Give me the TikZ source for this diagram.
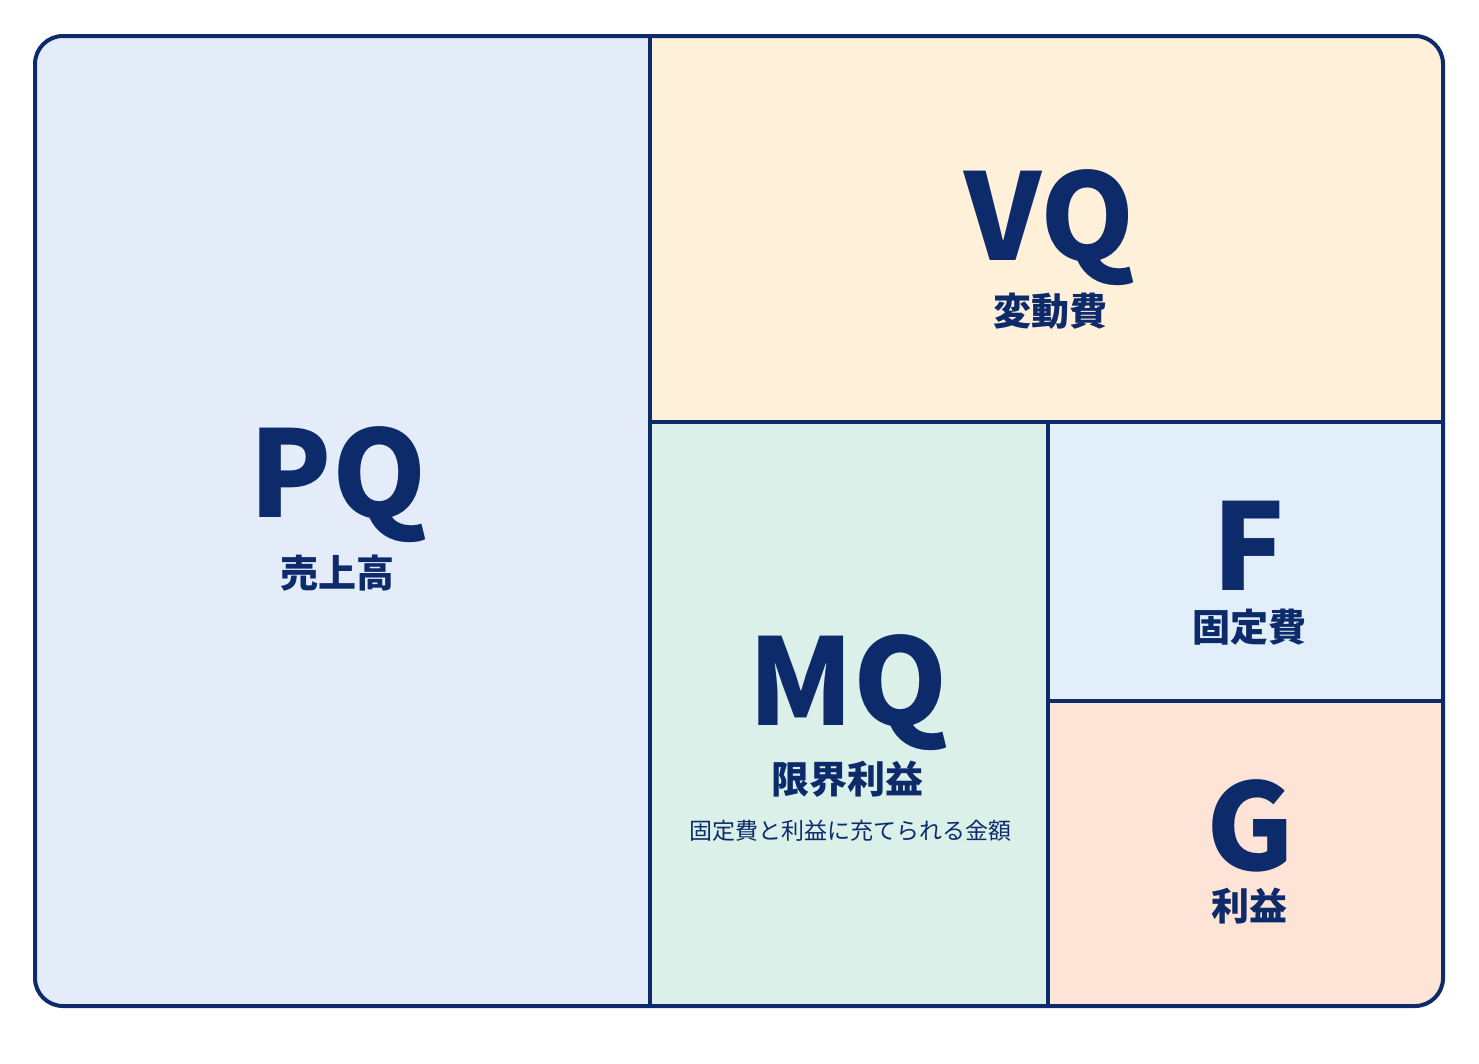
\documentclass[tikz,border=0pt]{standalone}
\usepackage{fontspec}
\setmainfont{Noto Sans CJK JP}
\definecolor{navy}{HTML}{0D2B6B}
\definecolor{pqbg}{HTML}{E4ECFA}
\definecolor{vqbg}{HTML}{FEF0D9}
\definecolor{mqbg}{HTML}{DAF0E8}
\definecolor{fbg}{HTML}{E2EEF9}
\definecolor{gbg}{HTML}{FDE4D6}
\tikzset{
  big/.style={text=navy,font=\fontsize{120}{120}\selectfont\bfseries,inner sep=0pt,anchor=base},
  lab/.style={text=navy,font=\fontsize{38}{38}\selectfont\bfseries,inner sep=0pt},
  small/.style={text=navy,font=\fontsize{23}{23}\selectfont,inner sep=0pt},
  divline/.style={draw=navy,line width=3.2pt},
  frame/.style={draw=navy,line width=4pt,rounded corners=28pt}
}
\begin{document}
\begin{tikzpicture}[x=1pt,y=-1pt]
\useasboundingbox (0,0) rectangle (1479,1063);
\fill[white] (0,0) rectangle (1479,1063);
\begin{scope}
\clip[rounded corners=28pt] (35,36) rectangle (1443,1006);
\fill[pqbg] (35,36) rectangle (650,1006);
\fill[vqbg] (650,36) rectangle (1443,422);
\fill[mqbg] (650,422) rectangle (1048,1006);
\fill[fbg] (1048,422) rectangle (1443,701);
\fill[gbg] (1048,701) rectangle (1443,1006);
\end{scope}
\coordinate (t1) at (650,36);
\coordinate (b1) at (650,1006);
\coordinate (l2) at (650,422);
\coordinate (r2) at (1443,422);
\coordinate (t3) at (1048,422);
\coordinate (b3) at (1048,1006);
\coordinate (l4) at (1048,701);
\coordinate (r4) at (1443,701);
\draw[divline] (t1) -- (b1);
\draw[divline] (l2) -- (r2);
\draw[divline] (t3) -- (b3);
\draw[divline] (l4) -- (r4);
\draw[frame] (35,36) rectangle (1443,1006);
\node[big] (pq) at (338,517) {PQ};
\node[lab] (pqj) at (337,573) {売上高};
\node[big] (vq) at (1050,260) {VQ};
\node[lab] (vqj) at (1050,311) {変動費};
\node[big] (f) at (1249,590) {F};
\node[lab] (fj) at (1249,627) {固定費};
\node[big] (mq) at (848,725) {MQ};
\node[lab] (mqj) at (847,779) {限界利益};
\node[small] (mqs) at (850,831) {固定費と利益に充てられる金額};
\node[big] (g) at (1250,870) {G};
\node[lab] (gj) at (1249,906) {利益};
\end{tikzpicture}
\end{document}
